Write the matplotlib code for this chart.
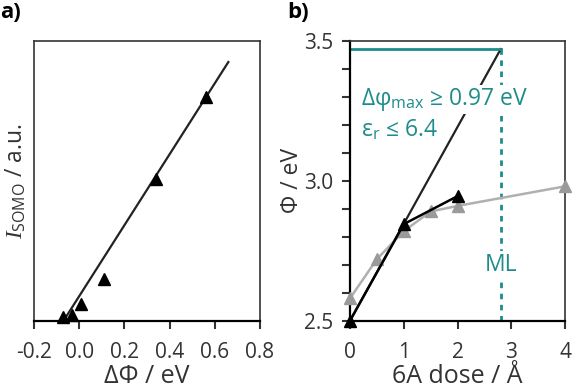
import numpy as np
import matplotlib.pyplot as plt

plt.rcParams['font.family'] = ['Open Sans', 'DejaVu Sans']
plt.rcParams['mathtext.fontset'] = 'custom'
plt.rcParams['mathtext.rm'] = 'Open Sans'
plt.rcParams['mathtext.it'] = 'Liberation Serif:italic'
plt.rcParams['mathtext.sf'] = 'Open Sans'

# ---------------- data ----------------
# panel a: SOMO intensity vs work function change
dphi = [-0.07, -0.03, 0.01, 0.11, 0.34, 0.56]
i_somo = [0.013, 0.021, 0.061, 0.149, 0.507, 0.801]
fit_x = [-0.07, 0.66]
fit_slope = 1.267

# panel b: work function vs 6A dose
dose_gray = [0, 0.5, 1, 1.5, 2, 4]
phi_gray = [2.58, 2.72, 2.82, 2.89, 2.91, 2.98]
dose_black = [0, 1, 2]
phi_black = [2.50, 2.845, 2.945]
ml_dose = 2.8
phi_max = 3.47

TEAL = '#1f8c8c'
GRAY_LINE = '#b0b0b0'
GRAY_MARK = '#9a9a9a'
TXT = '#333333'

fig = plt.figure(figsize=(5.72, 3.92), dpi=100)

# ---------------- panel a ----------------
ax1 = fig.add_axes([0.0594, 0.181, 0.3951, 0.7144])
fx = np.array(fit_x)
ax1.plot(fx, fit_slope * (fx - fit_x[0]), color='#222222', lw=1.6, zorder=2)
ax1.plot(dphi, i_somo, '^', color='black', ms=9, clip_on=False, zorder=3)
ax1.set_xlim(-0.2, 0.8)
ax1.set_ylim(0, 1)
ax1.set_xticks(np.arange(-0.2, 0.81, 0.2))
ax1.set_xticklabels(['-0.2', '0.0', '0.2', '0.4', '0.6', '0.8'])
ax1.set_yticks([])
ax1.tick_params(axis='x', direction='out', length=6, width=1.5, labelsize=15,
                colors=TXT, pad=9)
ax1.set_xlabel('ΔΦ / eV', fontsize=18, color=TXT, labelpad=1)
ax1.set_ylabel(r'$I_{\mathrm{SOMO}}$ / a.u.', fontsize=16.5, color=TXT, labelpad=4)
for s in ax1.spines.values():
    s.set_linewidth(1.2)
    s.set_color(TXT)
ax1.spines['bottom'].set_linewidth(1.6)
ax1.spines['bottom'].set_color('black')

# ---------------- panel b ----------------
ax2 = fig.add_axes([0.6119, 0.1819, 0.3764, 0.7143])
ax2.plot([0, ml_dose], [phi_black[0], phi_max], color='#222222', lw=1.6, zorder=2)
ax2.plot(dose_gray, phi_gray, '-^', color=GRAY_LINE, mfc=GRAY_MARK, mec=GRAY_MARK,
         lw=1.8, ms=9, clip_on=False, zorder=3)
ax2.plot(dose_black, phi_black, '-^', color='black', lw=1.8, ms=9, clip_on=False, zorder=4)
ax2.plot([0, ml_dose], [phi_max, phi_max], color=TEAL, lw=2, zorder=2)
ax2.plot([ml_dose, ml_dose], [2.5, phi_max], color=TEAL, lw=2, ls=(0, (2, 2)), zorder=1)

ax2.text(0.2, 3.29, r'Δφ$_{\mathrm{max}}$ ≥ 0.97 eV', color=TEAL, fontsize=16.5,
         va='center', ha='left', zorder=5,
         bbox=dict(facecolor='white', edgecolor='none', pad=1))
ax2.text(0.2, 3.18, r'ε$_{\mathrm{r}}$ ≤ 6.4', color=TEAL, fontsize=16.5,
         va='center', ha='left', zorder=5,
         bbox=dict(facecolor='white', edgecolor='none', pad=1))
ax2.text(ml_dose, 2.70, 'ML', color=TEAL, fontsize=16.5, va='center', ha='center', zorder=5,
         bbox=dict(facecolor='white', edgecolor='none', pad=1))

ax2.set_xlim(0, 4)
ax2.set_ylim(2.5, 3.5)
ax2.set_xticks([0, 1, 2, 3, 4])
ax2.set_yticks(np.arange(2.5, 3.51, 0.1))
ax2.set_yticklabels(['2.5', '', '', '', '', '3.0', '', '', '', '', '3.5'])
ax2.tick_params(axis='x', direction='out', length=6, width=1.5, labelsize=15, colors=TXT, pad=9)
ax2.tick_params(axis='y', direction='out', length=6, width=1.5, labelsize=15, colors=TXT, pad=6)
ax2.set_xlabel('6A dose / Å', fontsize=18, color=TXT, labelpad=1)
ax2.set_ylabel('Φ / eV', fontsize=16.5, color=TXT, labelpad=0)
for s in ax2.spines.values():
    s.set_linewidth(1.2)
    s.set_color(TXT)
ax2.spines['bottom'].set_linewidth(1.6)
ax2.spines['bottom'].set_color('black')
ax2.spines['left'].set_linewidth(1.6)
ax2.spines['left'].set_color('black')

fig.text(0.0, 0.995, 'a)', fontsize=16, fontweight='bold', va='top', ha='left')
fig.text(0.502, 0.995, 'b)', fontsize=16, fontweight='bold', va='top', ha='left')

fig.savefig('out.png', dpi=100)
